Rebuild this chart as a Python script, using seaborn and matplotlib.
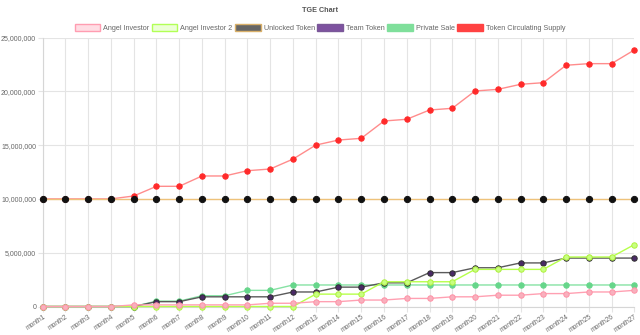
import matplotlib
matplotlib.use("Agg")
import matplotlib.pyplot as plt
from matplotlib.patches import Patch
from matplotlib.ticker import FuncFormatter, MultipleLocator
import pandas as pd
import seaborn as sns

months = [f"month{i}" for i in range(1, 28)]

angel_investor = [0, 0, 0, 0, 0.15, 0.15, 0.15, 0.15, 0.15, 0.15, 0.3, 0.3, 0.45, 0.45,
                  0.6, 0.6, 0.75, 0.75, 0.9, 0.9, 1.05, 1.05, 1.2, 1.2, 1.35, 1.35, 1.5]
angel_investor_2 = [0, 0, 0, 0, 0, 0, 0, 0, 0, 0, 0, 0, 1.15, 1.15,
                    1.15, 2.3, 2.3, 2.3, 2.3, 3.45, 3.45, 3.45, 3.45, 4.6, 4.6, 4.6, 5.75]
unlocked_token = [10] * 27
team_token = [0, 0, 0, 0, 0, 0.45, 0.45, 0.9, 0.9, 0.9, 0.9, 1.35, 1.35, 1.8,
              1.8, 2.2, 2.2, 3.15, 3.15, 3.6, 3.6, 4.05, 4.05, 4.5, 4.5, 4.5, 4.5]
private_sale = [0, 0, 0, 0, 0, 0.5, 0.5, 1.0, 1.0, 1.5, 1.5, 2, 2, 2,
                2, 2, 2, 2, 2, 2, 2, 2, 2, 2, 2, 2, 2]
circulating_supply = [10, 10, 10, 10, 10.27, 11.17, 11.17, 12.13, 12.13, 12.62, 12.78, 13.7,
                      15.0, 15.47, 15.63, 17.24, 17.4, 18.26, 18.42, 20.03, 20.18, 20.65,
                      20.8, 22.42, 22.57, 22.57, 23.84]

labels = ["Angel Investor", "Angel Investor 2", "Unlocked Token",
          "Team Token", "Private Sale", "Token Circulating Supply"]
series = [angel_investor, angel_investor_2, unlocked_token,
          team_token, private_sale, circulating_supply]

# (line colour, marker face, marker edge, legend fill, legend edge, marker size)
styles = [
    ("#ffa0b2", "#f8b0bd", "#ff91a6", "#ffdde4", "#ff9db1", 3.9),
    ("#b6ff4a", "#c8ff80", "#aef23c", "#ecffd6", "#b2ff56", 3.9),
    ("#eec27a", "#111111", "#111111", "#666666", "#d9b06a", 4.5),
    ("#5a5a5a", "#4a2a66", "#2e2e2e", "#7e52a0", "#7a5898", 3.9),
    ("#86e2a4", "#66d68a", "#66d68a", "#7fdf9b", "#7fdf9b", 3.9),
    ("#ff8c8c", "#ff2a2a", "#ff2a2a", "#ff4242", "#ff4242", 3.9),
]

frames = []
for name, vals in zip(labels, series):
    frames.append(pd.DataFrame({"month": months,
                                "value": [v * 1_000_000 for v in vals],
                                "series": name}))
df = pd.concat(frames, ignore_index=True)

sns.set_theme(style="whitegrid")
plt.rcParams["font.family"] = ["Liberation Sans", "DejaVu Sans"]

fig = plt.figure(figsize=(6.4, 3.35), dpi=100)
ax = fig.add_axes([42.7 / 640, 28.5 / 335, (634.3 - 42.7) / 640, (306.5 - 37.5) / 335])

# draw the last series first so earlier series sit on top
n = len(labels)
for i in reversed(range(n)):
    name = labels[i]
    line_c, face_c, edge_c, _, _, msize = styles[i]
    sub = df[df["series"] == name]
    sns.lineplot(data=sub, x="month", y="value", ax=ax, color=line_c,
                 linewidth=1.0, marker="o", markersize=msize,
                 markerfacecolor=face_c, markeredgecolor=edge_c,
                 markeredgewidth=0.7, clip_on=False, legend=False,
                 zorder=10 + (n - i))

grid_c = "#e4e4e4"
ax.set_xlim(0, len(months) - 1)
ax.set_ylim(0, 25_000_000)
ax.yaxis.set_major_locator(MultipleLocator(5_000_000))
ax.yaxis.set_major_formatter(FuncFormatter(lambda v, p: f"{int(v):,}"))
ax.grid(True, color=grid_c, linewidth=0.8)
ax.set_axisbelow(True)
for side in ["top", "right"]:
    ax.spines[side].set_visible(False)
for side in ["left", "bottom"]:
    ax.spines[side].set_color("#d6d6d6")
    ax.spines[side].set_linewidth(0.8)
ax.set_xlabel("")
ax.set_ylabel("")
ax.tick_params(axis="both", which="both", length=3.5, width=0.8, color=grid_c,
               labelcolor="#666666", pad=1.2)
ax.tick_params(axis="y", labelsize=5, left=True)
ax.tick_params(axis="x", labelsize=4.8, bottom=True)
for lbl in ax.get_xticklabels():
    lbl.set_rotation(34)
    lbl.set_ha("right")
    lbl.set_va("top")
    lbl.set_rotation_mode("anchor")

handles = [Patch(facecolor=s[3], edgecolor=s[4], linewidth=1.0) for s in styles]
fig.legend(handles, labels, loc="center", bbox_to_anchor=(0.5, 1 - 28 / 335),
           ncol=6, frameon=False, fontsize=5.2, labelcolor="#666666",
           handlelength=3.5, handleheight=1.0, handletextpad=0.45,
           columnspacing=0.35, borderpad=0)

fig.text(0.5, 1 - 10 / 335, "TGE Chart", ha="center", va="center",
         fontsize=5.2, fontweight="bold", color="#555555")

fig.savefig("out.png", dpi=100, facecolor="white")
